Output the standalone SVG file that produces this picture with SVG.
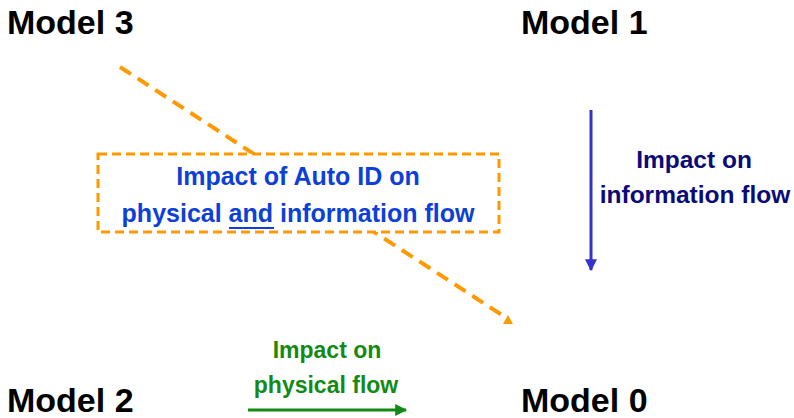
<svg xmlns="http://www.w3.org/2000/svg" width="794" height="418" viewBox="0 0 794 418">
<style>
.model{font-family:"Liberation Sans",Arial,sans-serif;font-weight:bold;font-size:34px;fill:#000}
.lbl{font-family:"Liberation Sans",Arial,sans-serif;font-weight:bold;text-anchor:middle}
</style>
<defs>
<marker id="ab" viewBox="0 0 10 10" refX="9" refY="5" markerWidth="4" markerHeight="4" orient="auto" markerUnits="strokeWidth"><path d="M0,0L10,5L0,10z" fill="#3333CC"/></marker>
<marker id="ag" viewBox="0 0 10 10" refX="9" refY="5" markerWidth="5" markerHeight="4" orient="auto" markerUnits="strokeWidth"><path d="M0,0L10,5L0,10z" fill="#138A13"/></marker>
</defs>
<rect width="794" height="418" fill="#fff"/>
<g id="connectors">
<line x1="120" y1="67" x2="505" y2="317" stroke="#FF9900" stroke-width="4" stroke-dasharray="13,8"/>
<polygon points="503,324 513,324 508,315" fill="#FF9900"/>
<line x1="591" y1="110" x2="591" y2="270" stroke="#3333CC" stroke-width="3" marker-end="url(#ab)"/>
<line x1="248" y1="410" x2="406" y2="410" stroke="#138A13" stroke-width="3" marker-end="url(#ag)"/>
</g>
<g id="model3"><text class="model" x="7" y="34">Model 3</text></g>
<g id="model1"><text class="model" x="521" y="34">Model 1</text></g>
<g id="model2"><text class="model" x="7" y="412">Model 2</text></g>
<g id="model0"><text class="model" x="521" y="412">Model 0</text></g>
<g id="autoid">
<rect x="98" y="154" width="401" height="78" fill="#fff" stroke="#FF9900" stroke-width="3" stroke-dasharray="9,5"/>
<text class="lbl" x="298" y="185" font-size="25" fill="#0D3FD9">Impact of Auto ID on</text>
<text class="lbl" x="298" y="222" font-size="25" fill="#0D3FD9">physical and information flow</text>
<line x1="229" y1="228" x2="274" y2="228" stroke="#0D3FD9" stroke-width="2"/>
</g>
<g id="info-label">
<text class="lbl" x="694" y="168" font-size="24.5" fill="#0A0A78">Impact on</text>
<text class="lbl" x="695" y="203" font-size="24.5" fill="#0A0A78">information flow</text>
</g>
<g id="phys-label">
<text class="lbl" x="327" y="358" font-size="23" fill="#138A13">Impact on</text>
<text class="lbl" x="326" y="393" font-size="23" fill="#138A13">physical flow</text>
</g>
</svg>
